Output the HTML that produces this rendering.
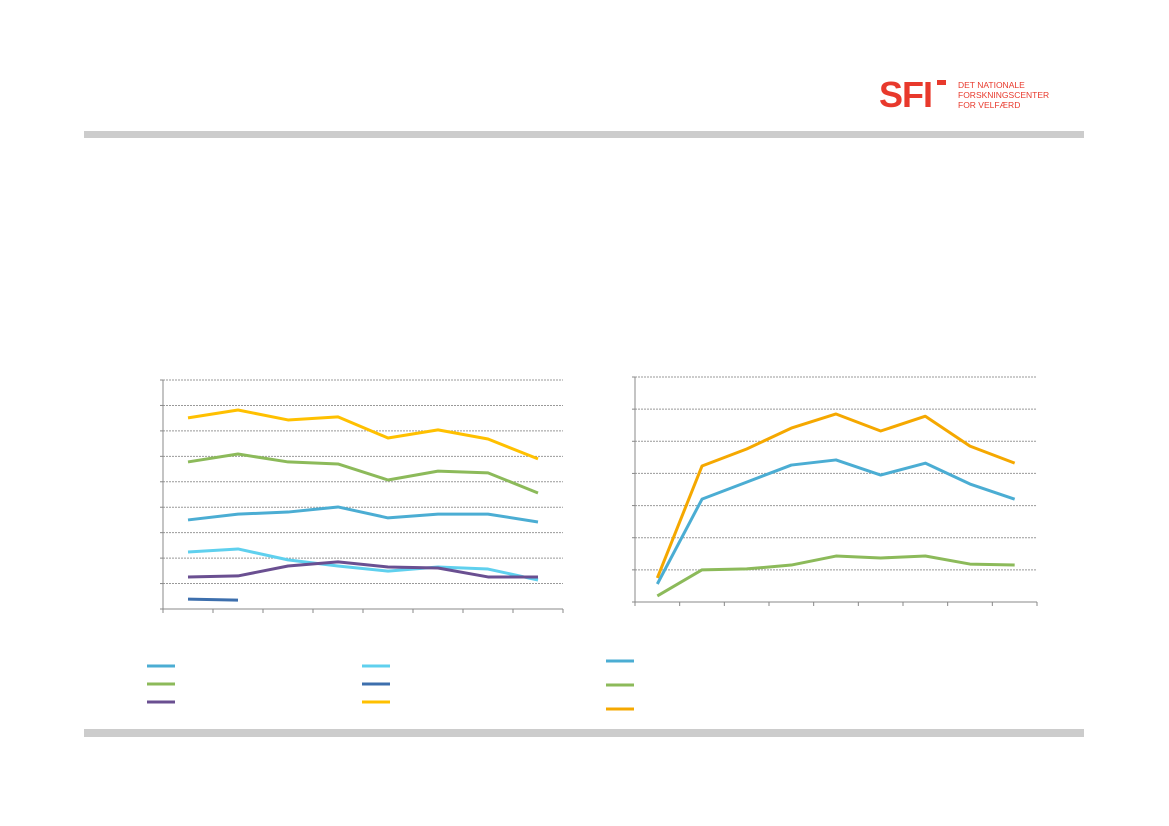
<!DOCTYPE html>
<html><head><meta charset="utf-8"><style>
body{margin:0;background:#fff;font-family:"Liberation Sans",sans-serif}
svg{display:block}
</style></head><body>
<svg id="root" width="1169" height="826" xmlns="http://www.w3.org/2000/svg">
<g>
<text x="879" y="107" font-size="36" font-weight="bold" fill="#e8392c" font-family="Liberation Sans" letter-spacing="-1">SFI</text>
<rect x="937" y="80" width="9" height="5" fill="#e8392c"/>
<text font-size="8.5" fill="#e8392c"><tspan x="958" y="88">DET NATIONALE</tspan><tspan x="958" y="98">FORSKNINGSCENTER</tspan><tspan x="958" y="108">FOR VELFÆRD</tspan></text>
</g>
<rect x="84" y="131" width="1000" height="7" fill="#cccccc"/>
<rect x="84" y="729" width="1000" height="8" fill="#cccccc"/>
<g id="left"></g>
<g id="right"></g>
</svg>
<script>
const NS="http://www.w3.org/2000/svg";
// Left chart data
const leftCats=["1","2","3","4","5","6","7","8"];
const leftYellow=[75.1,78.2,74.3,75.5,67.2,70.4,66.8,59.0];
const leftGreen=[57.8,60.9,57.8,57.0,50.7,54.2,53.5,45.6];
const leftBlue=[35.0,37.3,38.1,40.1,35.8,37.3,37.3,34.2];
const leftCyan=[22.4,23.6,19.3,16.9,14.9,16.5,15.7,11.4];
const leftPurple=[12.6,13.0,16.9,18.5,16.5,16.1,12.6,12.6];
const leftDark=[3.9,3.5,null,null,null,null,null,null];
const leftTicks=[0,10,20,30,40,50,60,70,80,90];
// Right chart data
const rightCats=["1","2","3","4","5","6","7","8","9"];
const rightOrange=[7.5,42.3,47.6,54.1,58.5,53.2,57.8,48.5,43.2];
const rightBlue=[5.6,32.0,37.3,42.6,44.2,39.5,43.2,36.7,32.0];
const rightGreen=[1.9,10.0,10.3,11.5,14.3,13.7,14.3,11.8,11.5];
const rightTicks=[0,10,20,30,40,50,60,70];

function mk(p,tag,a){const e=document.createElementNS(NS,tag);for(const k in a)e.setAttribute(k,a[k]);p.appendChild(e);return e;}

function chart(g,o){
  const {x0,x1,y0,y1,max,cats,ticks,series,name}=o;
  const bw=(x1-x0)/cats.length;
  const X=i=>x0+bw*(i+0.5);
  const Y=v=>y1-(v/max)*(y1-y0);
  ticks.forEach(t=>{
    if(t===0)return;
    const l=mk(g,"line",{x1:x0,x2:x1,y1:Y(t),y2:Y(t),stroke:"#999",
      "stroke-width":1,"stroke-dasharray":"2,1"});
    
    
  });
  const ax=mk(g,"line",{x1:x0,x2:x0,y1:y0,y2:y1,stroke:"#888"});
  
  
  const bx=mk(g,"line",{x1:x0,x2:x1,y1:y1,y2:y1,stroke:"#888"});
  
  
  for(let i=0;i<=cats.length;i++){
    const t=mk(g,"line",{x1:x0+bw*i,x2:x0+bw*i,y1:y1,y2:y1+4,stroke:"#888"});
    
    
  }
  ticks.forEach(t=>{
    const t2=mk(g,"line",{x1:x0-3,x2:x0,y1:Y(t),y2:Y(t),stroke:"#888"});
    
    
  });
  series.forEach(s=>{
    let d="";let pen=false;
    s.data.forEach((v,i)=>{if(v==null){pen=false;return;}d+=(pen?"L":"M")+X(i)+","+Y(v);pen=true;});
    const p=mk(g,"path",{d:d,fill:"none",stroke:s.color,"stroke-width":3,"stroke-linejoin":"round"});
    
    
  });
}
chart(document.getElementById("left"),{x0:163,x1:563,y0:380,y1:609,max:90,cats:leftCats,ticks:leftTicks,name:"left-chart",
 series:[{id:"series-yellow",color:"#ffc000",data:leftYellow},{id:"series-green",color:"#8cba5a",data:leftGreen},
 {id:"series-blue",color:"#4badd3",data:leftBlue},{id:"series-cyan",color:"#5fd0ee",data:leftCyan},
 {id:"series-purple",color:"#6a4f91",data:leftPurple},{id:"series-dark-blue",color:"#3d6fad",data:leftDark}]});
chart(document.getElementById("right"),{x0:635,x1:1037,y0:377,y1:602,max:70,cats:rightCats,ticks:rightTicks,name:"right-chart",
 series:[{id:"series-orange",color:"#f5a800",data:rightOrange},{id:"series-blue-r",color:"#4badd3",data:rightBlue},
 {id:"series-green-r",color:"#8cba5a",data:rightGreen}]});

const legends=[[147,666,"#4badd3"],[147,684,"#8cba5a"],[147,702,"#6a4f91"],[362,666,"#5fd0ee"],[362,684,"#3d6fad"],[362,702,"#ffc000"],
 [606,661,"#4badd3"],[606,685,"#8cba5a"],[606,709,"#f5a800"]];
const root=document.getElementById("root");
legends.forEach((l,i)=>{
  const e=mk(root,"line",{x1:l[0],x2:l[0]+28,y1:l[1],y2:l[1],stroke:l[2],"stroke-width":3});
  
  
});
</script>
</body></html>
